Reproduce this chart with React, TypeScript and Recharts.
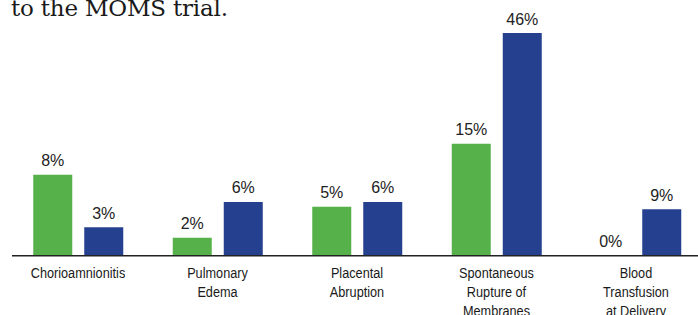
import React from "react";
import { BarChart, Bar, XAxis, YAxis, LabelList } from "recharts";

// Category tick labels (each split into lines)
const categories: string[][] = [
  ["Chorioamnionitis"],
  ["Pulmonary", "Edema"],
  ["Placental", "Abruption"],
  ["Spontaneous", "Rupture of", "Membranes"],
  ["Blood", "Transfusion", "at Delivery"],
];

// Printed percentages above each bar
const greenLabels = ["8%", "2%", "5%", "15%", "0%"];
const blueLabels = ["3%", "6%", "6%", "46%", "9%"];

// Bar heights as drawn in the infographic (not to scale with the labels)
const greenHeights = [16.7, 3.7, 10.1, 23.1, 0];
const blueHeights = [5.9, 11.1, 11.1, 46, 9.6];

const titleText = "to the MOMS trial.";

const data = categories.map((c, i) => ({
  name: c.join(" "),
  green: greenHeights[i],
  blue: blueHeights[i],
  greenLabel: greenLabels[i],
  blueLabel: blueLabels[i],
}));

const GREEN = "#57b14a";
const BLUE = "#25408e";
const SANS = "'Liberation Sans', Arial, sans-serif";

const Tick = (props: any) => {
  const { x, y, index } = props;
  const lines = categories[index] || [];
  const sx = 0.82;
  return (
    <text
      transform={`translate(${x},0) scale(${sx},1) translate(${-x},0)`}
      x={x}
      y={y}
      textAnchor="middle"
      fill="#1a1a1a"
      fontSize={15.5}
      fontFamily={SANS}
    >
      {lines.map((l, i) => (
        <tspan key={i} x={x} y={y + 14.3 + i * 18.8}>
          {l}
        </tspan>
      ))}
    </text>
  );
};

export default function App() {
  return (
    <div
      style={{
        position: "fixed",
        left: 0,
        top: 0,
        width: 698,
        height: 315,
        overflow: "hidden",
        background: "#fff",
      }}
    >
      <svg
        width={698}
        height={30}
        style={{ position: "absolute", left: 0, top: 0 }}
      >
        <text
          x={11}
          y={15.7}
          fontFamily="'DejaVu Serif', serif"
          fontSize={23}
          fill="#1a1a1a"
          letterSpacing={-0.2}
        >
          {titleText}
        </text>
      </svg>
      <BarChart
        width={706}
        height={315}
        data={data}
        margin={{ top: 33, right: 0, bottom: 0, left: 12 }}
        barSize={39}
        barGap={12}
        style={{ position: "absolute", left: 0, top: 0 }}
      >
        <YAxis hide domain={[0, 46]} />
        <XAxis
          dataKey="name"
          height={59.3}
          padding={{ left: -3.75, right: 0.25 }}
          tickLine={false}
          axisLine={{ stroke: "#222", strokeWidth: 1.5 }}
          tick={<Tick />}
          interval={0}
        />
        <Bar
          dataKey="green"
          fill={GREEN}
          minPointSize={0.01}
          isAnimationActive={false}
        >
          <LabelList
            dataKey="greenLabel"
            position="top"
            offset={8.5}
            fill="#222"
            fontSize={16}
            fontFamily={SANS}
          />
        </Bar>
        <Bar dataKey="blue" fill={BLUE} isAnimationActive={false}>
          <LabelList
            dataKey="blueLabel"
            position="top"
            offset={8.5}
            fill="#222"
            fontSize={16}
            fontFamily={SANS}
          />
        </Bar>
      </BarChart>
    </div>
  );
}
